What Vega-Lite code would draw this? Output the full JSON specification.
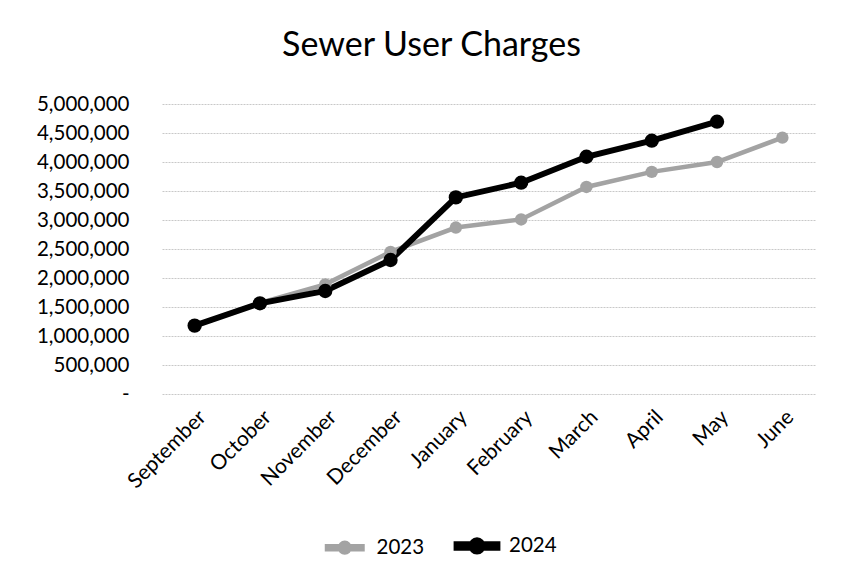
{
  "$schema": "https://vega.github.io/schema/vega-lite/v6.json",
  "width": 653,
  "height": 290,
  "autosize": {"type": "none"},
  "padding": {"left": 162, "top": 104, "right": 28, "bottom": 188},
  "background": "white",
  "config": {
    "font": "Lato",
    "view": {"stroke": null}
  },
  "title": {
    "text": "Sewer User Charges",
    "fontSize": 34,
    "fontWeight": "normal",
    "color": "#000000",
    "anchor": "middle",
    "dx": -57,
    "offset": 31
  },
  "data": {
    "values": [
      {"month": "September", "year": "2023", "value": 1180000},
      {"month": "October", "year": "2023", "value": 1570000},
      {"month": "November", "year": "2023", "value": 1890000},
      {"month": "December", "year": "2023", "value": 2450000},
      {"month": "January", "year": "2023", "value": 2870000},
      {"month": "February", "year": "2023", "value": 3010000},
      {"month": "March", "year": "2023", "value": 3570000},
      {"month": "April", "year": "2023", "value": 3830000},
      {"month": "May", "year": "2023", "value": 4000000},
      {"month": "June", "year": "2023", "value": 4420000},
      {"month": "September", "year": "2024", "value": 1178000},
      {"month": "October", "year": "2024", "value": 1564000},
      {"month": "November", "year": "2024", "value": 1776000},
      {"month": "December", "year": "2024", "value": 2310000},
      {"month": "January", "year": "2024", "value": 3390000},
      {"month": "February", "year": "2024", "value": 3643000},
      {"month": "March", "year": "2024", "value": 4090000},
      {"month": "April", "year": "2024", "value": 4367000},
      {"month": "May", "year": "2024", "value": 4695000}
    ]
  },
  "encoding": {
    "x": {
      "field": "month",
      "type": "ordinal",
      "sort": ["September", "October", "November", "December", "January", "February", "March", "April", "May", "June"],
      "title": null,
      "axis": {
        "labelAngle": -45,
        "labelFontSize": 21,
        "labelColor": "#000000",
        "domain": false,
        "ticks": false,
        "labelPadding": 12
      }
    },
    "y": {
      "field": "value",
      "type": "quantitative",
      "title": null,
      "scale": {"domain": [0, 5000000]},
      "axis": {
        "values": [0, 500000, 1000000, 1500000, 2000000, 2500000, 3000000, 3500000, 4000000, 4500000, 5000000],
        "labelExpr": "datum.value === 0 ? '-\u00a0\u00a0' : format(datum.value, ',')",
        "labelFontSize": 20.5,
        "labelColor": "#000000",
        "labelPadding": 33,
        "domain": false,
        "ticks": false,
        "grid": true,
        "gridColor": "#c8c8c8",
        "gridDash": [2, 1]
      }
    },
    "color": {
      "field": "year",
      "type": "nominal",
      "scale": {"domain": ["2023", "2024"], "range": ["#a3a3a3", "#000000"]},
      "legend": {
        "title": null,
        "orient": "none",
        "direction": "horizontal",
        "legendX": 172.5,
        "legendY": 431,
        "labelFontSize": 20.5,
        "labelColor": "#000000",
        "symbolType": "M -2.85 -0.25 L 2.85 -0.25 L 2.85 0.25 L -2.85 0.25 Z M 0.78 0 A 0.78 0.78 0 1 1 -0.78 0 A 0.78 0.78 0 1 1 0.78 0 Z",
        "symbolSize": 400,
        "symbolStrokeWidth": 0,
        "labelOffset": 21.5,
        "columnPadding": 20
      }
    }
  },
  "layer": [
    {
      "mark": {"type": "line"},
      "encoding": {
        "strokeWidth": {
          "field": "year",
          "type": "nominal",
          "scale": {"domain": ["2023", "2024"], "range": [4.5, 6]},
          "legend": null
        }
      }
    },
    {
      "mark": {"type": "point", "filled": true, "opacity": 1},
      "encoding": {
        "size": {
          "field": "year",
          "type": "nominal",
          "scale": {"domain": ["2023", "2024"], "range": [155, 205]},
          "legend": null
        }
      }
    }
  ]
}
